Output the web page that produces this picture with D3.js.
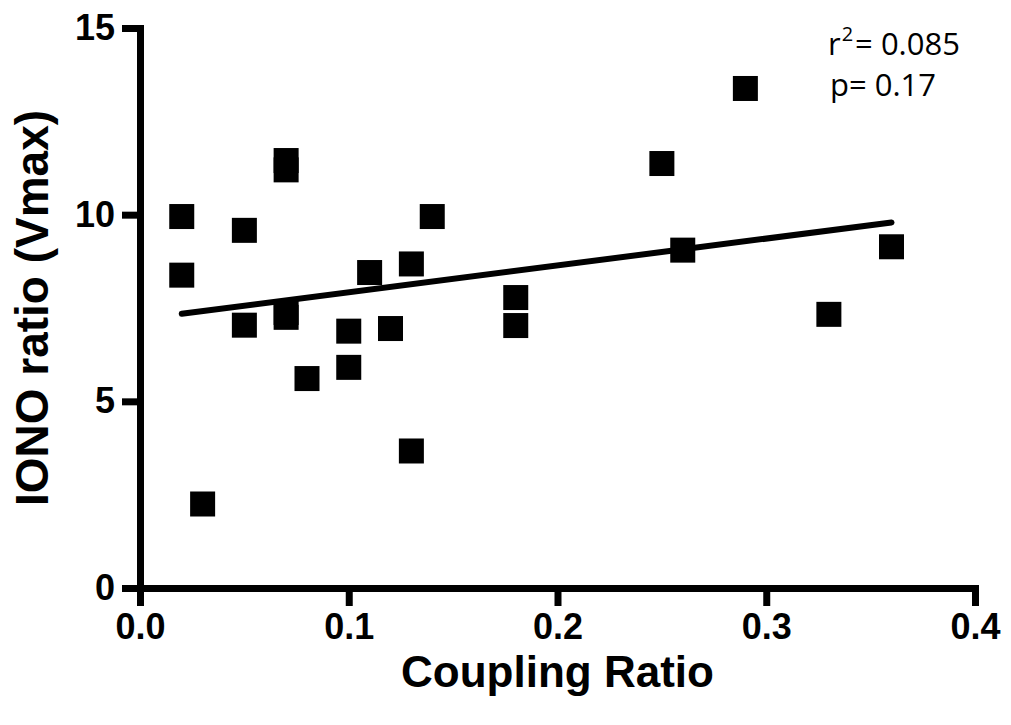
<!doctype html>
<html lang="en">
<head>
	<meta charset="utf-8">
	<title>IONO ratio vs Coupling Ratio</title>
	<script src="https://cdn.jsdelivr.net/npm/d3@7"></script>
	<style>
		body { margin: 0; background: #fff; }
		.axis path, .axis line { stroke: #000; stroke-width: 7; }
		.axis text { font-family: "Liberation Sans", Arial, sans-serif; font-weight: bold; font-size: 36px; fill: #000; }
		.title { font-family: "Liberation Sans", Arial, sans-serif; font-weight: bold; font-size: 44px; }
		.stats { font-family: "Open Sans", sans-serif; font-size: 31px; }
	</style>
</head>
<body>
	<div id="chart"></div>
	<script>
		// coupling ratio (x) and IONO ratio Vmax (y)
		var couplingRatio = [0.02, 0.02, 0.03, 0.05, 0.05, 0.07, 0.07, 0.07, 0.07, 0.08, 0.10, 0.10,
			0.11, 0.12, 0.13, 0.13, 0.14, 0.18, 0.18, 0.25, 0.26, 0.29, 0.33, 0.36];
		var ionoRatio = [9.95, 8.38, 2.25, 9.58, 7.04, 11.45, 11.2, 7.25, 7.38, 5.61, 6.88, 5.91,
			8.45, 6.95, 8.68, 3.67, 9.95, 7.78, 7.03, 11.37, 9.05, 13.38, 7.33, 9.14];

		var xTicks = [0.0, 0.1, 0.2, 0.3, 0.4];
		var yTicks = [0, 5, 10, 15];

		// linear fit as drawn
		var fitSlope = 7.2;
		var fitIntercept = 7.2;
		var fitRange = [0.02, 0.36];

		var width = 1011, height = 725;
		var plotLeft = 140, plotRight = 975, plotTop = 28, plotBottom = 588;
		var markerSize = 25;

		var svg = d3.select("#chart").append("svg")
			.attr("width", width).attr("height", height);

		var x = d3.scaleLinear().domain([0, 0.4]).range([plotLeft, plotRight]);
		var y = d3.scaleLinear().domain([0, 15]).range([plotBottom, plotTop]);

		svg.append("g")
			.attr("class", "axis")
			.attr("transform", "translate(0," + plotBottom + ")")
			.call(d3.axisBottom(x).tickValues(xTicks).tickFormat(d3.format(".1f"))
				.tickSize(18).tickSizeOuter(0).tickPadding(7));

		svg.append("g")
			.attr("class", "axis")
			.attr("transform", "translate(" + plotLeft + ",0)")
			.call(d3.axisLeft(y).tickValues(yTicks).tickFormat(d3.format("d"))
				.tickSize(18).tickSizeOuter(0).tickPadding(7));

		svg.selectAll(".domain").attr("stroke-linecap", "square");

		// regression line
		svg.append("line")
			.attr("x1", x(fitRange[0]))
			.attr("y1", y(fitIntercept + fitSlope * fitRange[0]))
			.attr("x2", x(fitRange[1]))
			.attr("y2", y(fitIntercept + fitSlope * fitRange[1]))
			.attr("stroke", "#000")
			.attr("stroke-width", 6)
			.attr("stroke-linecap", "round");

		var points = couplingRatio.map(function(d, i) { return { x: d, y: ionoRatio[i] }; });

		svg.selectAll(".pt")
			.data(points)
			.enter().append("rect")
			.attr("class", "pt")
			.attr("x", function(d) { return x(d.x) - markerSize / 2; })
			.attr("y", function(d) { return y(d.y) - markerSize / 2; })
			.attr("width", markerSize)
			.attr("height", markerSize)
			.attr("fill", "#000");

		svg.append("text")
			.attr("class", "title")
			.attr("x", (plotLeft + plotRight) / 2)
			.attr("y", 687)
			.attr("text-anchor", "middle")
			.text("Coupling Ratio");

		svg.append("text")
			.attr("class", "title")
			.style("font-size", "46px")
			.attr("transform", "translate(48," + (plotTop + plotBottom) / 2 + ") rotate(-90)")
			.attr("text-anchor", "middle")
			.text("IONO ratio (Vmax)");

		var r2 = svg.append("text").attr("class", "stats").attr("x", 828).attr("y", 55);
		r2.append("tspan").text("r");
		r2.append("tspan").style("font-size", "20px").attr("dy", -14).attr("dx", 1).text("2");
		r2.append("tspan").attr("dy", 14).attr("dx", 2).text("= 0.085");

		svg.append("text").attr("class", "stats").attr("x", 830).attr("y", 96).text("p= 0.17");
	</script>
</body>
</html>
